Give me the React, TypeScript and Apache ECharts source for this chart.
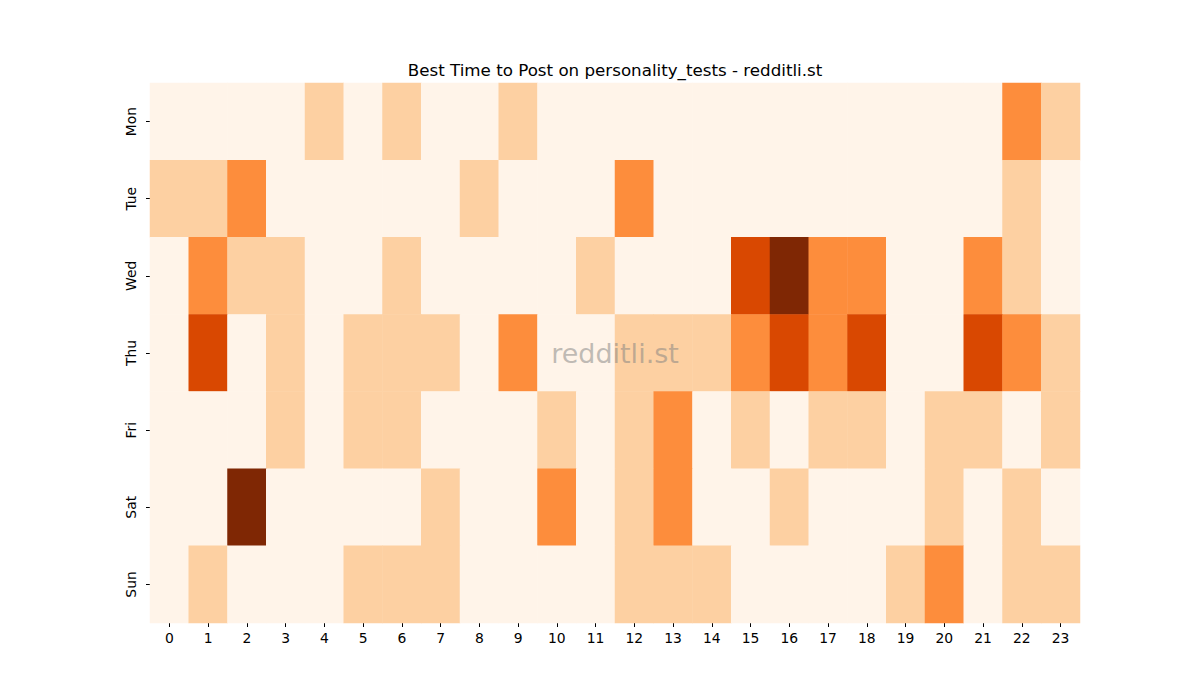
import React, { useEffect, useRef } from "react";
import * as echarts from "echarts";

const hours = ["0","1","2","3","4","5","6","7","8","9","10","11","12","13","14","15","16","17","18","19","20","21","22","23"];
const days = ["Mon", "Tue", "Wed", "Thu", "Fri", "Sat", "Sun"];

const mon = [0,0,0,0,1,0,1,0,0,1,0,0,0,0,0,0,0,0,0,0,0,0,2,1];
const tue = [1,1,2,0,0,0,0,0,1,0,0,0,2,0,0,0,0,0,0,0,0,0,1,0];
const wed = [0,2,1,1,0,0,1,0,0,0,0,1,0,0,0,3,4,2,2,0,0,2,1,0];
const thu = [0,3,0,1,0,1,1,1,0,2,0,0,1,1,1,2,3,2,3,0,0,3,2,1];
const fri = [0,0,0,1,0,1,1,0,0,0,1,0,1,2,0,1,0,1,1,0,1,1,0,1];
const sat = [0,0,4,0,0,0,0,1,0,0,2,0,1,2,0,0,1,0,0,0,1,0,1,0];
const sun = [0,1,0,0,0,1,1,1,0,0,0,0,1,1,1,0,0,0,0,1,2,0,1,1];

const rows = [mon, tue, wed, thu, fri, sat, sun];
const levelColors = ["#fff4e9", "#fdd0a2", "#fd8d3c", "#d94801", "#7f2704"];

export default function App() {
  const ref = useRef<HTMLDivElement>(null);
  useEffect(() => {
    if (!ref.current) return;
    const chart = echarts.init(ref.current, null, { renderer: "svg" });
    const data: number[][] = [];
    rows.forEach((r, yi) => r.forEach((v, xi) => data.push([xi, yi, v])));
    const font = "DejaVu Sans";
    chart.setOption({
      animation: false,
      backgroundColor: "#ffffff",
      graphic: [
        {
          type: "text",
          x: 615,
          y: 70,
          style: {
            text: "Best Time to Post on personality_tests - redditli.st",
            fontFamily: font,
            fontSize: 16.7,
            fill: "#000",
            align: "center",
            verticalAlign: "middle",
          },
        },
        {
          type: "text",
          x: 615,
          y: 353,
          style: {
            text: "redditli.st",
            fontFamily: font,
            fontSize: 27,
            fill: "rgba(128,128,128,0.5)",
            align: "center",
            verticalAlign: "middle",
          },
          z: 100,
        },
      ],
      grid: { left: 150, right: 120, top: 83, bottom: 77, containLabel: false },
      xAxis: {
        type: "category",
        data: hours,
        axisLine: { show: false },
        axisTick: { show: true, alignWithLabel: true, length: 4, lineStyle: { color: "#000" } },
        axisLabel: { fontFamily: font, fontSize: 13.9, color: "#000", margin: 8 },
        splitLine: { show: false },
      },
      yAxis: {
        type: "category",
        data: days,
        inverse: true,
        axisLine: { show: false },
        axisTick: { show: true, alignWithLabel: true, length: 4, lineStyle: { color: "#000" } },
        axisLabel: { fontFamily: font, fontSize: 13.9, color: "#000", rotate: 90, margin: 12 },
        splitLine: { show: false },
      },
      visualMap: {
        show: false,
        type: "piecewise",
        dimension: 2,
        pieces: levelColors.map((c, i) => ({ value: i, color: c })),
      },
      series: [
        {
          type: "heatmap",
          data,
          itemStyle: { borderWidth: 0 },
          emphasis: { disabled: true },
        },
      ],
    });
    return () => chart.dispose();
  }, []);
  return (
    <div
      ref={ref}
      style={{ position: "absolute", left: 0, top: 0, width: 1200, height: 700 }}
    />
  );
}
